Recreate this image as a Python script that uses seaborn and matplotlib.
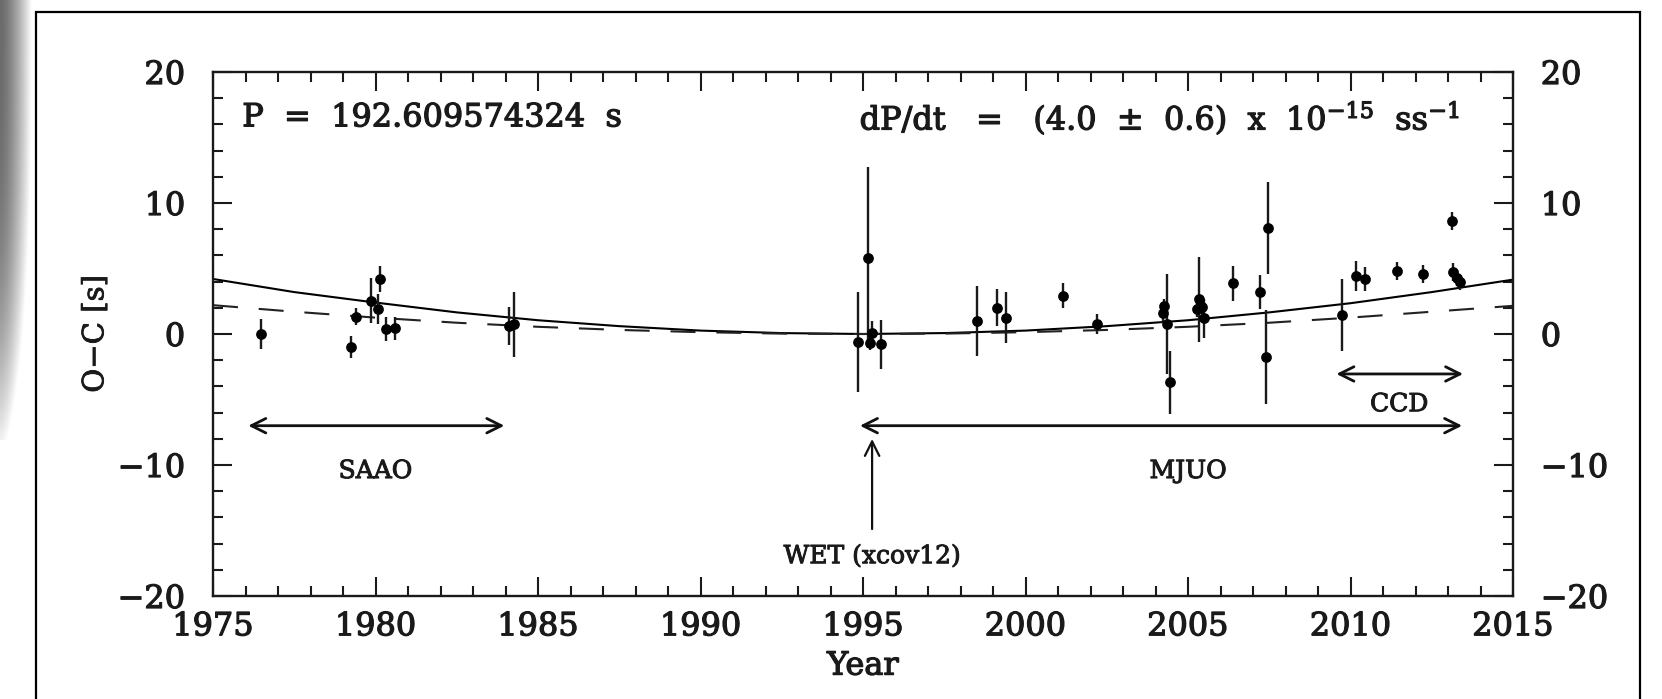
import numpy as np
import pandas as pd
import matplotlib
matplotlib.use("Agg")
import matplotlib.pyplot as plt
import matplotlib.patheffects as pe
import seaborn as sns
from matplotlib.ticker import MultipleLocator
from matplotlib.patches import Rectangle

sns.set_theme(style="ticks")
plt.rcParams["font.family"] = ["DejaVu Serif"]
plt.rcParams["mathtext.fontset"] = "dejavuserif"

# ===============================
# Datos O-C
# ===============================
saao_year = [1976.48, 1979.25, 1979.40, 1979.87, 1980.14, 1980.07, 1980.32, 1980.60, 1984.10, 1984.26]
saao_oc = [0.00, -1.00, 1.32, 2.54, 4.22, 1.93, 0.38, 0.43, 0.63, 0.74]
saao_err = [1.15, 0.85, 0.67, 1.70, 1.00, 1.15, 0.93, 0.85, 1.46, 2.48]

mjuo_year = [1994.86, 1995.16, 1995.27, 1995.22, 1995.55, 1998.50, 1999.13, 1999.40,
             2001.16, 2002.19, 2004.24, 2004.27, 2004.36, 2004.45, 2005.27, 2005.35,
             2005.42, 2005.49, 2006.39, 2007.22, 2007.47, 2007.39]
mjuo_oc = [-0.59, 5.83, 0.05, -0.71, -0.79, 0.99, 2.00, 1.25,
           2.93, 0.75, 1.63, 2.10, 0.76, -3.70, 1.88, 2.65,
           2.08, 1.20, 3.87, 3.23, 8.11, -1.78]
mjuo_err = [3.80, 6.90, 0.93, 0.50, 1.87, 2.70, 1.40, 1.96,
            0.95, 0.78, 0.80, 0.60, 3.80, 2.40, 0.60, 3.25,
            0.70, 1.50, 1.32, 1.30, 3.50, 3.60]

ccd_year = [2009.73, 2010.17, 2010.45, 2011.42, 2012.24, 2013.11, 2013.16, 2013.29, 2013.37]
ccd_oc = [1.45, 4.45, 4.20, 4.81, 4.55, 8.65, 4.71, 4.30, 3.94]
ccd_err = [2.74, 1.15, 0.90, 0.72, 0.69, 0.70, 0.68, 0.60, 0.60]

# Curvas de ajuste (valores leídos cada 2.5 años)
fit_year = [1975, 1977.5, 1980, 1982.5, 1985, 1987.5, 1990, 1992.5, 1995,
            1997.5, 2000, 2002.5, 2005, 2007.5, 2010, 2012.5, 2015]
fit_solid = [4.20, 3.20, 2.40, 1.65, 1.05, 0.60, 0.26, 0.07, 0.00,
             0.07, 0.26, 0.60, 1.05, 1.65, 2.35, 3.20, 4.15]
fit_dashed = [2.20, 1.70, 1.25, 0.86, 0.55, 0.31, 0.14, 0.03, 0.00,
              0.03, 0.14, 0.31, 0.55, 0.86, 1.25, 1.70, 2.15]

df = pd.DataFrame({
    "year": saao_year + mjuo_year + ccd_year,
    "oc": saao_oc + mjuo_oc + ccd_oc,
    "err": saao_err + mjuo_err + ccd_err,
})
df_fit = pd.DataFrame({"year": fit_year, "solid": fit_solid, "dashed": fit_dashed})

INK = "#1a1a1a"
thick = [pe.withStroke(linewidth=0.9, foreground=INK)]

# ===============================
# Figura
# ===============================
fig = plt.figure(figsize=(16.62, 6.99), dpi=100)
fig.patch.set_facecolor("white")

# sombra gris del escaneo (borde izquierdo)
shade = fig.add_axes([0, 1 - 440 / 699, 32 / 1662, 440 / 699])
gx = np.linspace(0, 1, 40)
gy = np.linspace(0, 1, 200)
img = 0.42 + 0.58 * np.clip(gx[None, :] ** 1.5 + (gy[:, None] ** 3) * 0.9, 0, 1)
shade.imshow(img, cmap="gray", vmin=0, vmax=1, aspect="auto", interpolation="bilinear")
shade.axis("off")

# marco
fig.patches.append(Rectangle((36 / 1662, -0.05), (1640 - 36) / 1662, 1 - 12 / 699 + 0.05,
                             transform=fig.transFigure, fill=False, edgecolor="black",
                             linewidth=1.6, zorder=0))

ax = fig.add_axes([213 / 1662, 1 - 596 / 699, 1300 / 1662, 524 / 699])
ax.set_facecolor("white")

ax.errorbar(df["year"], df["oc"], yerr=df["err"], fmt="none", ecolor=INK,
            elinewidth=1.7, capsize=0, zorder=2)
sns.scatterplot(data=df, x="year", y="oc", color="black", s=60, edgecolor="black",
                linewidth=0, ax=ax, zorder=3)

sns.lineplot(data=df_fit, x="year", y="solid", color="black", linewidth=1.5, ax=ax, zorder=1)
sns.lineplot(data=df_fit, x="year", y="dashed", color="#222222", linewidth=1.5, ax=ax,
             zorder=1, dashes=False)
ax.lines[-1].set_dashes((12, 10))

ax.set_xlim(1975, 2015)
ax.set_ylim(-20, 20)
ax.xaxis.set_major_locator(MultipleLocator(5))
ax.xaxis.set_minor_locator(MultipleLocator(1))
ax.yaxis.set_major_locator(MultipleLocator(10))
ax.yaxis.set_minor_locator(MultipleLocator(2))
ax.tick_params(which="both", direction="in", top=True, right=True, labelright=True,
               width=1.5, color=INK, labelsize=23, labelcolor=INK)
ax.tick_params(which="major", length=14)
ax.tick_params(which="minor", length=7)
ax.tick_params(axis="x", pad=11)
ax.tick_params(axis="y", pad=20)
for sp in ax.spines.values():
    sp.set_linewidth(1.7)
    sp.set_color(INK)
for t in ax.xaxis.get_major_ticks() + ax.yaxis.get_major_ticks():
    t.label1.set_path_effects(thick)
    t.label2.set_path_effects(thick)

ax.set_xlabel("Year", fontsize=23, labelpad=6, color=INK, path_effects=thick)
ax.set_ylabel("O\u2212C [s]", fontsize=21, labelpad=6, color=INK,
              path_effects=[pe.withStroke(linewidth=0.6, foreground=INK)])

# textos
ax.text(1975.9, 16.5, "P  =  192.609574324  s", fontsize=23, ha="left", va="center",
        color=INK, path_effects=thick)
ax.text(2013.4, 16.5, r"dP/dt   =   (4.0  $\pm$  0.6)  x  10$^{-15}$  ss$^{-1}$",
        fontsize=23, ha="right", va="center", color=INK, path_effects=thick)

arrow = dict(arrowstyle="<->", color="#111111", lw=2.0, mutation_scale=26)
ax.annotate("", xy=(1984.05, -7.0), xytext=(1976.0, -7.0), arrowprops=arrow)
ax.annotate("", xy=(2013.52, -7.0), xytext=(1994.82, -7.0), arrowprops=arrow)
ax.annotate("", xy=(2013.55, -3.05), xytext=(2009.48, -3.05), arrowprops=arrow)
ax.annotate("", xy=(1995.28, -7.8), xytext=(1995.28, -15.1),
            arrowprops=dict(arrowstyle="->", color="#111111", lw=1.6, mutation_scale=26))

for x, y, s in [(1980.0, -10.5, "SAAO"), (2005.0, -10.5, "MJUO"),
                (2011.5, -5.4, "CCD"), (1995.28, -17.0, "WET (xcov12)")]:
    ax.text(x, y, s, fontsize=18, ha="center", va="center", color=INK,
            path_effects=[pe.withStroke(linewidth=0.7, foreground=INK)])

plt.savefig("out.png", dpi=100)
plt.close()
